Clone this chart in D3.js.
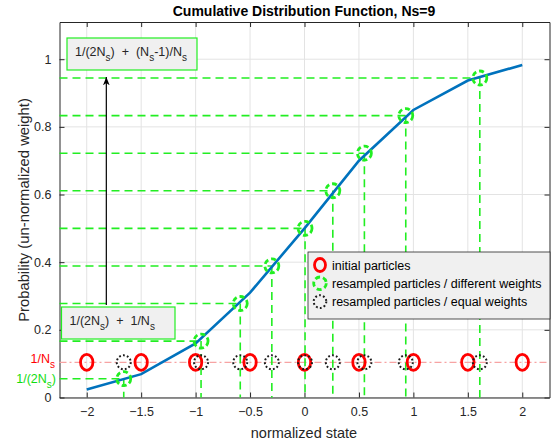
<!DOCTYPE html>
<html>
<head>
<meta charset="utf-8">
<script src="https://cdn.jsdelivr.net/npm/d3@7"></script>
<style>
  body { margin: 0; background: #fff; }
  text { font-family: "Liberation Sans", Arial, Helvetica, sans-serif; white-space: pre; }
</style>
</head>
<body>
<div id="chart"></div>
<script>
// particles and their cumulative weights
var particleX = [-2, -1.5, -1, -0.5, 0, 0.5, 1, 1.5, 2];
var cdfY = [0.024, 0.069, 0.16, 0.31, 0.5, 0.70, 0.85, 0.937, 0.983];
// systematic resampling levels and where they land
var sampleLevels = [0.0556, 0.1667, 0.2778, 0.3889, 0.5, 0.6111, 0.7222, 0.8333, 0.9444];
var resampledX = [-1.66, -0.95, -0.59, -0.30, 0.005, 0.26, 0.55, 0.93, 1.61];
var weightLevel = 0.104;   // 1/Ns row
var halfLevel = 0.0556;    // 1/(2Ns)
var xTicks = [-2, -1.5, -1, -0.5, 0, 0.5, 1, 1.5, 2];
var yTicks = [0, 0.2, 0.4, 0.6, 0.8, 1];
var legendLabels = ['initial particles', 'resampled particles / different weights', 'resampled particles / equal weights'];

var W = 559, H = 447;
var green = '#22ee22', red = '#ff0000', blue = '#0072bd';

var svg = d3.select('#chart').append('svg')
    .attr('width', W)
    .attr('height', H);

var x = d3.scaleLinear().domain([-2.25, 2.25]).range([59.5, 549.5]);
var y = d3.scaleLinear().domain([0, 1.11]).range([397.5, 22]);

// grid
svg.append('g').selectAll('line').data(xTicks).enter().append('line')
    .attr('x1', function (d) { return x(d); })
    .attr('x2', function (d) { return x(d); })
    .attr('y1', y.range()[0]).attr('y2', y.range()[1])
    .style('stroke', '#e3e3e3');
svg.append('g').selectAll('line').data(yTicks).enter().append('line')
    .attr('x1', x.range()[0]).attr('x2', x.range()[1])
    .attr('y1', function (d) { return y(d); })
    .attr('y2', function (d) { return y(d); })
    .style('stroke', '#e3e3e3');

// axes (ticks inside, box on)
var xAxis = svg.append('g').attr('transform', 'translate(0,' + y(0) + ')')
    .call(d3.axisBottom(x).tickValues(xTicks).tickSizeInner(-5).tickSizeOuter(0).tickPadding(10)
        .tickFormat(function (d) { return d3.format('')(d); }));
var xTop = svg.append('g').attr('transform', 'translate(0,' + y.range()[1] + ')')
    .call(d3.axisTop(x).tickValues(xTicks).tickSizeInner(-5).tickSizeOuter(0).tickFormat(''));
var yAxis = svg.append('g').attr('transform', 'translate(' + x.range()[0] + ',0)')
    .call(d3.axisLeft(y).tickValues(yTicks).tickSizeInner(-5).tickSizeOuter(0).tickPadding(8)
        .tickFormat(function (d) { return d3.format('')(d); }));
var yRight = svg.append('g').attr('transform', 'translate(' + x.range()[1] + ',0)')
    .call(d3.axisRight(y).tickValues(yTicks).tickSizeInner(-5).tickSizeOuter(0).tickFormat(''));
[xAxis, xTop, yAxis, yRight].forEach(function (g) {
    g.selectAll('path').style('stroke', '#262626');
    g.selectAll('line').style('stroke', '#262626');
    g.selectAll('text').style('font-size', '12.5px').style('fill', '#262626');
});

// 1/Ns dash-dot row
svg.append('line')
    .attr('x1', x.range()[0]).attr('x2', x.range()[1])
    .attr('y1', y(weightLevel)).attr('y2', y(weightLevel))
    .style('stroke', '#f7a3a3').style('stroke-width', 1.2)
    .style('stroke-dasharray', '7,3,2,3');

// resampling guide lines
var guides = svg.append('g').style('stroke', green).style('stroke-width', 1.6)
    .style('stroke-dasharray', '8,5').style('fill', 'none');
sampleLevels.forEach(function (u, i) {
    guides.append('line')
        .attr('x1', x.range()[0]).attr('x2', x(resampledX[i]))
        .attr('y1', y(u)).attr('y2', y(u));
    guides.append('line')
        .attr('x1', x(resampledX[i])).attr('x2', x(resampledX[i]))
        .attr('y1', y(u)).attr('y2', y(0));
});

// CDF curve
var line = d3.line().x(function (d, i) { return x(particleX[i]); }).y(function (d) { return y(d); });
svg.append('path').datum(cdfY)
    .attr('d', line)
    .style('fill', 'none').style('stroke', blue).style('stroke-width', 2.6);

// markers
svg.append('g').selectAll('ellipse').data(particleX).enter().append('ellipse')
    .attr('cx', function (d) { return x(d); })
    .attr('cy', y(weightLevel))
    .attr('rx', 6.2).attr('ry', 8)
    .style('fill', 'none').style('stroke', red).style('stroke-width', 2.8);
svg.append('g').selectAll('circle').data(resampledX).enter().append('circle')
    .attr('cx', function (d) { return x(d); })
    .attr('cy', y(weightLevel))
    .attr('r', 7)
    .style('fill', 'none').style('stroke', '#1a1a1a').style('stroke-width', 2)
    .style('stroke-dasharray', '1.8,2.2');
svg.append('g').selectAll('circle').data(resampledX).enter().append('circle')
    .attr('cx', function (d) { return x(d); })
    .attr('cy', function (d, i) { return y(sampleLevels[i]); })
    .attr('r', 7)
    .style('fill', 'none').style('stroke', green).style('stroke-width', 2.8)
    .style('stroke-dasharray', '5,3');

// level labels on the y axis
function subText(g, parts, xx, yy, color, anchor) {
    var t = g.append('text').attr('x', xx).attr('y', yy)
        .attr('text-anchor', anchor || 'start')
        .attr('xml:space', 'preserve')
        .style('font-size', '12.5px').style('fill', color);
    parts.forEach(function (p) {
        var s = t.append('tspan').text(p[0]);
        if (p[1] === 'sub') s.attr('dy', 5).style('font-size', '10px');
        if (p[1] === 'up') s.attr('dy', -5);
    });
    return t;
}
subText(svg, [['1/N'], ['s', 'sub']], 55, y(weightLevel) + 1, red, 'end');
subText(svg, [['1/(2N'], ['s', 'sub'], [')', 'up']], 56, y(halfLevel) + 4, '#11dd11', 'end');

// annotation boxes
function annBox(x0, y0, w, h, parts) {
    svg.append('rect').attr('x', x0).attr('y', y0).attr('width', w).attr('height', h)
        .style('fill', '#f0f0f0').style('stroke', green).style('stroke-width', 1.2);
    subText(svg, parts, x0 + 8, y0 + h / 2 + 2, '#262626');
}
annBox(67, 38, 130, 32, [['1/(2N'], ['s', 'sub'], [')  +  (N', 'up'], ['s', 'sub'], ['-1)/N', 'up'], ['s', 'sub']]);
annBox(61.5, 307, 113.5, 32, [['1/(2N'], ['s', 'sub'], [')  +  1/N', 'up'], ['s', 'sub']]);

// arrow
svg.append('defs').append('marker').attr('id', 'head')
    .attr('viewBox', '0 0 10 10').attr('refX', 10).attr('refY', 5)
    .attr('markerWidth', 7).attr('markerHeight', 8).attr('orient', 'auto')
    .append('path').attr('d', 'M0,1 L10,5 L0,9 L3,5 Z').style('fill', '#000');
svg.append('line')
    .attr('x1', x(-1.82)).attr('x2', x(-1.82))
    .attr('y1', 305).attr('y2', 77)
    .style('stroke', '#000').style('stroke-width', 1.2)
    .attr('marker-end', 'url(#head)');

// legend
var lg = svg.append('g').attr('transform', 'translate(308,252)');
lg.append('rect').attr('width', 242).attr('height', 67)
    .style('fill', '#f0f0f0').style('stroke', '#262626').style('stroke-width', 0.8);
legendLabels.forEach(function (d, i) {
    var cy = 13 + i * 18.3;
    var m;
    if (i === 0) {
        m = lg.append('ellipse').attr('rx', 5.5).attr('ry', 6.5).style('stroke', red).style('stroke-width', 2.8);
    } else if (i === 1) {
        m = lg.append('circle').attr('r', 6.3).style('stroke', green).style('stroke-width', 2.8).style('stroke-dasharray', '5,3');
    } else {
        m = lg.append('circle').attr('r', 6.3).style('stroke', '#1a1a1a').style('stroke-width', 2).style('stroke-dasharray', '1.8,2.2');
    }
    m.attr('cx', 12).attr('cy', cy).style('fill', 'none');
    lg.append('text').attr('x', 24).attr('y', cy + 4.5)
        .text(d).style('font-size', '12.5px').style('fill', '#000');
});

// titles
svg.append('text').attr('x', 304).attr('y', 16).attr('text-anchor', 'middle')
    .text('Cumulative Distribution Function, Ns=9')
    .style('font-size', '14px').style('font-weight', 'bold').style('fill', '#000');
svg.append('text').attr('x', 304).attr('y', 438).attr('text-anchor', 'middle')
    .text('normalized state').style('font-size', '14.5px').style('fill', '#262626');
svg.append('text').attr('transform', 'translate(29,210) rotate(-90)').attr('text-anchor', 'middle')
    .text('Probability (un-normalized weight)').style('font-size', '14.8px').style('fill', '#262626');
</script>
</body>
</html>
